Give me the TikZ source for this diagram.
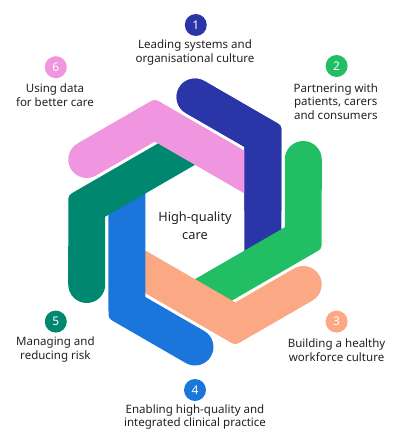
\documentclass[tikz,border=0pt]{standalone}
\usepackage{fontspec}
\setmainfont{Noto Sans}
\usetikzlibrary{positioning}

\definecolor{ink}{HTML}{222222}
\definecolor{navyband}{HTML}{2A36A8}
\definecolor{greenband}{HTML}{22BE63}
\definecolor{orangeband}{HTML}{FBA985}
\definecolor{blueband}{HTML}{1A76DB}
\definecolor{tealband}{HTML}{008770}
\definecolor{pinkband}{HTML}{F095E0}

\newcommand{\band}[2]{%
  \fill[#1, rotate=#2] (0.231,3.526) -- (1.989,2.510) .. controls (2.1625,2.410) .. (2.1625,2.210)
    -- (2.1625,-0.98) -- (1.2375,-0.98) -- (1.2375,1.877) -- (-0.231,2.7245)
    arc[start angle=240, end angle=60, radius=0.4625] -- cycle;}

\begin{document}
\begin{tikzpicture}
\useasboundingbox (-4.875,-5.525) rectangle (5.125,5.55);

\band{navyband}{0}
\band{greenband}{-60}
\band{orangeband}{-120}
\band{blueband}{-180}
\band{tealband}{-240}
\band{pinkband}{-300}
\begin{scope}
    \clip (-0.6,0.3) rectangle (2.6,3.7);
    \band{navyband}{0}
\end{scope}

\node[align=center, text=ink, font=\fontsize{9.1}{13}\selectfont] (core) at (0,-0.1) {High-quality\\care};

\begin{scope}[every node/.style={circle, minimum size=0.55cm, inner sep=0pt, text=white,
                                 font=\fontsize{8.5}{10}\selectfont}]
    \node[fill=navyband]   (n1) at (0.02,4.925) {1};
    \node[fill=greenband]  (n2) at (3.54,3.9)   {2};
    \node[fill=orangeband] (n3) at (3.54,-2.49) {3};
    \node[fill=blueband]   (n4) at (0,-4.2)     {4};
    \node[fill=tealband]   (n5) at (-3.48,-2.49) {5};
    \node[fill=pinkband]   (n6) at (-3.48,3.87) {6};
\end{scope}

\begin{scope}[every node/.style={align=center, text=ink, font=\fontsize{8.2}{9.6}\selectfont}]
    \node (t1) at (0,4.24)       {Leading systems and\\organisational culture};
    \node (t2) at (3.52,3.02)    {Partnering with\\patients, carers\\and consumers};
    \node (t3) at (3.54,-3.2)    {Building a healthy\\workforce culture};
    \node (t4) at (0,-4.875)     {Enabling high-quality and\\integrated clinical practice};
    \node (t5) at (-3.49,-3.185) {Managing and\\reducing risk};
    \node (t6) at (-3.5,3.167)   {Using data\\for better care};
\end{scope}
\end{tikzpicture}
\end{document}
